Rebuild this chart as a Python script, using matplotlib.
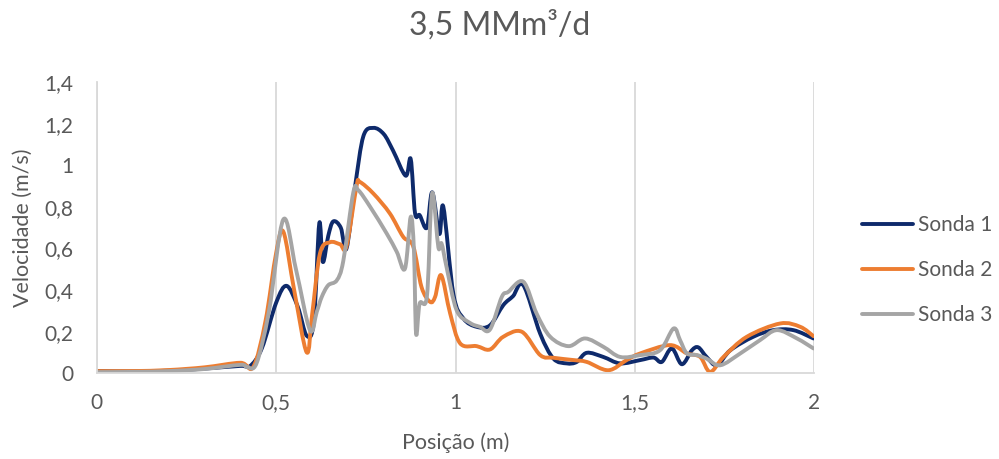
import matplotlib
matplotlib.use("Agg")
import matplotlib.pyplot as plt
from matplotlib.path import Path
from matplotlib.patches import PathPatch
from matplotlib.lines import Line2D
from matplotlib.ticker import FuncFormatter

plt.rcParams['font.family'] = ['Lato', 'DejaVu Sans']

# Posição (m) e velocidade (m/s) de cada sonda
x1 = [0.0, 0.1, 0.2, 0.3, 0.4, 0.427, 0.46, 0.5, 0.529, 0.56, 0.585, 0.605, 0.62, 0.63, 0.645, 0.659,
      0.68, 0.696, 0.72, 0.743, 0.771, 0.80, 0.826, 0.861, 0.875, 0.887, 0.90, 0.92, 0.935, 0.955,
      0.966, 0.994, 1.022, 1.059, 1.096, 1.133, 1.160, 1.189, 1.236, 1.273, 1.31, 1.338, 1.366,
      1.412, 1.459, 1.515, 1.552, 1.575, 1.603, 1.631, 1.659, 1.677, 1.70, 1.729, 1.766, 1.83,
      1.886, 1.942, 1.998]
v1 = [0.01, 0.008, 0.012, 0.022, 0.035, 0.034, 0.12, 0.34, 0.42, 0.32, 0.18, 0.25, 0.72, 0.535, 0.66, 0.73,
      0.70, 0.60, 0.90, 1.14, 1.18, 1.15, 1.07, 0.95, 1.03, 0.77, 0.76, 0.70, 0.87, 0.67,
      0.80, 0.38, 0.263, 0.223, 0.23, 0.327, 0.37, 0.423, 0.19, 0.07, 0.047, 0.054, 0.098,
      0.078, 0.047, 0.063, 0.075, 0.054, 0.119, 0.043, 0.11, 0.124, 0.078, 0.038, 0.11, 0.175,
      0.207, 0.207, 0.167]

x2 = [0.0, 0.1, 0.2, 0.3, 0.4, 0.436, 0.47, 0.50, 0.52, 0.55, 0.585, 0.60, 0.622, 0.65, 0.678, 0.696,
      0.724, 0.733, 0.771, 0.817, 0.854, 0.882, 0.905, 0.929, 0.943, 0.96, 0.985, 1.013, 1.059,
      1.096, 1.133, 1.185, 1.236, 1.273, 1.329, 1.366, 1.426, 1.477, 1.515, 1.598, 1.645, 1.682,
      1.71, 1.747, 1.812, 1.905, 1.961, 1.998]
v2 = [0.01, 0.01, 0.015, 0.028, 0.05, 0.03, 0.25, 0.58, 0.68, 0.40, 0.10, 0.28, 0.576, 0.63, 0.62, 0.61,
      0.90, 0.92, 0.864, 0.768, 0.656, 0.61, 0.415, 0.343, 0.367, 0.471, 0.287, 0.143, 0.13,
      0.114, 0.175, 0.199, 0.087, 0.074, 0.063, 0.054, 0.014, 0.063, 0.095, 0.135, 0.095, 0.078,
      0.006, 0.078, 0.175, 0.239, 0.223, 0.178]

x3 = [0.0, 0.1, 0.2, 0.3, 0.4, 0.418, 0.445, 0.48, 0.52, 0.555, 0.594, 0.613, 0.627, 0.645, 0.669, 0.687,
      0.715, 0.729, 0.762, 0.808, 0.836, 0.859, 0.875, 0.884, 0.89, 0.90, 0.92, 0.931, 0.938,
      0.952, 0.961, 0.975, 1.003, 1.04, 1.068, 1.096, 1.129, 1.147, 1.189, 1.226, 1.264, 1.315,
      1.361, 1.412, 1.459, 1.515, 1.57, 1.608, 1.626, 1.645, 1.673, 1.70, 1.738, 1.794, 1.849,
      1.896, 1.952, 1.998]
v3 = [0.005, 0.006, 0.01, 0.02, 0.04, 0.03, 0.047, 0.30, 0.74, 0.50, 0.207, 0.295, 0.367, 0.423, 0.447, 0.54,
      0.87, 0.88, 0.80, 0.672, 0.584, 0.503, 0.752, 0.59, 0.19, 0.335, 0.367, 0.784, 0.856,
      0.607, 0.624, 0.51, 0.303, 0.242, 0.223, 0.21, 0.367, 0.391, 0.44, 0.287, 0.175, 0.13,
      0.167, 0.127, 0.078, 0.087, 0.11, 0.215, 0.159, 0.095, 0.087, 0.07, 0.038, 0.095, 0.159,
      0.207, 0.167, 0.119]

series_names = ["Sonda 1", "Sonda 2", "Sonda 3"]
series_x = [x1, x2, x3]
series_v = [v1, v2, v3]
series_colors = ["#0E2A6B", "#ED7D31", "#A5A5A5"]

text_color = "#595959"
grid_color = "#D9D9D9"


def smooth_path(ax, xs, ys):
    """Smoothed line through the points (cubic Bezier segments, Catmull-Rom tangents),
    built in display space so the curvature matches the on-screen aspect."""
    pts = ax.transData.transform(list(zip(xs, ys)))
    n = len(pts)
    verts = [pts[0]]
    codes = [Path.MOVETO]
    for i in range(n - 1):
        p0 = pts[i - 1] if i > 0 else pts[i]
        p1 = pts[i]
        p2 = pts[i + 1]
        p3 = pts[i + 2] if i + 2 < n else pts[i + 1]
        c1 = p1 + (p2 - p0) / 6.0
        c2 = p2 - (p3 - p1) / 6.0
        verts += [c1, c2, p2]
        codes += [Path.CURVE4] * 3
    inv = ax.transData.inverted()
    return Path(inv.transform(verts), codes)


fig = plt.figure(figsize=(9.99, 4.59), dpi=100)
ax = fig.add_axes([0.097, 0.187, 0.718, 0.634])
ax.set_xlim(0, 2)
ax.set_ylim(0, 1.4)

handles = []
for name, xs, vs, c in zip(series_names, series_x, series_v, series_colors):
    patch = PathPatch(smooth_path(ax, xs, vs), facecolor="none", edgecolor=c, lw=2.8,
                      joinstyle="round", capstyle="round", transform=ax.transData)
    ax.add_patch(patch)
    handles.append(Line2D([], [], color=c, lw=2.8, solid_capstyle="round", label=name))

ax.set_xticks([0, 0.5, 1, 1.5, 2])
ax.set_yticks([0, 0.2, 0.4, 0.6, 0.8, 1.0, 1.2, 1.4])

fmt = FuncFormatter(lambda v, p: ("%g" % round(v, 2)).replace(".", ","))
ax.xaxis.set_major_formatter(fmt)
ax.yaxis.set_major_formatter(fmt)

ax.grid(axis="x", color=grid_color, lw=1.3)
ax.set_axisbelow(True)
for s in ["top", "right"]:
    ax.spines[s].set_visible(False)
for s in ["left", "bottom"]:
    ax.spines[s].set_color(grid_color)
    ax.spines[s].set_linewidth(1.3)
ax.tick_params(axis="both", length=0, colors=text_color, labelsize=15)
ax.tick_params(axis="x", pad=14)
ax.tick_params(axis="y", pad=17)

ax.set_xlabel("Posição (m)", fontsize=15.5, color=text_color, labelpad=14)
ax.set_ylabel("Velocidade (m/s)", fontsize=15.5, color=text_color, labelpad=8)
fig.suptitle("3,5 MMm³/d", fontsize=23, color=text_color, y=0.978)

leg = ax.legend(handles=handles, loc="center left", bbox_to_anchor=(1.067, 0.354), frameon=False,
                borderaxespad=0, borderpad=0, fontsize=15, handlelength=2.45,
                handletextpad=0.25, labelspacing=1.2)
for t in leg.get_texts():
    t.set_color(text_color)

fig.savefig("out.png", dpi=100)
